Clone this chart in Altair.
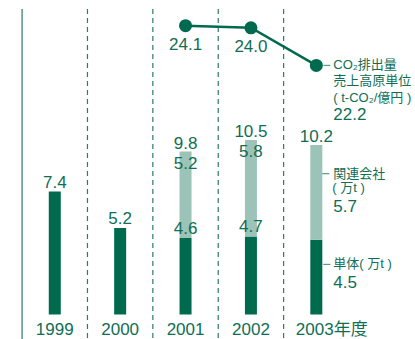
import altair as alt
import pandas as pd

# Fiscal years and CO2 emission figures
years = ["1999", "2000", "2001", "2002", "2003"]
own_emissions = [7.4, 5.2, 4.6, 4.7, 4.5]          # 単体 (万t)
affiliate_emissions = [None, None, 5.2, 5.8, 5.7]  # 関連会社 (万t)
total_labels = [None, None, "9.8", "10.5", "10.2"]
intensity_years = ["2001", "2002", "2003"]
intensity = [24.1, 24.0, 22.2]                      # t-CO2/億円

DARK = "#006a4e"
LIGHT = "#9cc3b8"
TEXT = "#0f6e54"
FONT = "Liberation Sans, Noto Sans CJK JP"

W, H = 415, 339

idx = {y: i for i, y in enumerate(years)}

rows = []
for y, own, aff, tot in zip(years, own_emissions, affiliate_emissions, total_labels):
    base = own
    rows.append({"year": y, "i": idx[y], "part": "own", "lo": 0, "hi": own,
                 "label": f"{own}"})
    if aff is not None:
        rows.append({"year": y, "i": idx[y], "part": "aff", "lo": own,
                     "hi": round(own + aff, 1), "label": f"{aff}", "total": tot})
bars = pd.DataFrame(rows)

line_df = pd.DataFrame({"year": intensity_years,
                        "i": [idx[y] for y in intensity_years],
                        "v": intensity,
                        "label": [f"{v:.1f}" for v in intensity]})

grid_df = pd.DataFrame({"b": [-0.5 + k for k in range(5)],
                        "kind": ["solid", "dash", "dash", "dash", "dash"]})
year_df = pd.DataFrame({"i": list(range(5)), "label": years})

x_scale = alt.Scale(domain=[-51 / 67, -51 / 67 + W / 67], nice=False, zero=False)
bar_scale = alt.Scale(domain=[-(H - 314.5) / 16.62, 314.5 / 16.62], nice=False, zero=False)
line_scale = alt.Scale(domain=[24.1 - (H - 25.7) / 20.9, 24.1 + 25.7 / 20.9], nice=False, zero=False)


def X(field="i"):
    return alt.X(f"{field}:Q", scale=x_scale, axis=None)


def YB(field):
    return alt.Y(f"{field}:Q", scale=bar_scale, axis=None)


def YL(field):
    return alt.Y(f"{field}:Q", scale=line_scale, axis=None)


def txt(**kw):
    base = dict(font=FONT, color=TEXT, fontSize=17)
    base.update(kw)
    return base


# Column separators
axis_line = alt.Chart(grid_df[grid_df.kind == "solid"]).mark_rule(
    color="#2e7a6a", strokeWidth=1.2).encode(x=X("b"), y=alt.value(9), y2=alt.value(H))
dash_lines = alt.Chart(grid_df[grid_df.kind == "dash"]).mark_rule(
    color="#2e7a6a", strokeWidth=1.2, strokeDash=[5, 4]).encode(
    x=X("b"), y=alt.value(9), y2=alt.value(H))

# Stacked bars
bar_marks = alt.Chart(bars).mark_bar(width=12).encode(
    x=X(), y=YB("lo"), y2="hi",
    color=alt.Color("part:N", scale=alt.Scale(domain=["own", "aff"], range=[DARK, LIGHT]),
                    legend=None))

inner = bars[bars.year != "2003"]
own_top = alt.Chart(inner[inner.part == "own"]).mark_text(
    **txt(dy=-4, baseline="alphabetic")).encode(x=X(), y=YB("hi"), text="label")
aff_lbl = alt.Chart(inner[inner.part == "aff"]).mark_text(
    **txt(dy=17, baseline="alphabetic")).encode(x=X(), y=YB("hi"), text="label")
tot_lbl = alt.Chart(bars[bars.part == "aff"]).mark_text(
    **txt(dy=-3, baseline="alphabetic")).encode(x=X(), y=YB("hi"), text="total:N")

# Right-hand legend labels for 2003
last_aff = bars[(bars.year == "2003") & (bars.part == "aff")]
last_own = bars[(bars.year == "2003") & (bars.part == "own")]

aff_tick = alt.Chart(last_aff).mark_tick(
    orient="horizontal", size=7, thickness=1.2, color=TEXT, xOffset=9.5, yOffset=28.7
).encode(x=X(), y=YB("hi"))
aff_t1 = alt.Chart(last_aff).mark_text(
    **txt(fontSize=13, align="left", baseline="middle", dx=17, dy=28.7)
).encode(x=X(), y=YB("hi"), text=alt.value("関連会社"))
aff_t2 = alt.Chart(last_aff).mark_text(
    **txt(fontSize=13, align="left", baseline="middle", dx=16, dy=43.5)
).encode(x=X(), y=YB("hi"), text=alt.value("( 万t )"))
aff_t3 = alt.Chart(last_aff).mark_text(
    **txt(align="left", baseline="alphabetic", dx=17, dy=67)
).encode(x=X(), y=YB("hi"), text="label")

own_tick = alt.Chart(last_own).mark_tick(
    orient="horizontal", size=7, thickness=1.2, color=TEXT, xOffset=10.5, yOffset=24.7
).encode(x=X(), y=YB("hi"))
own_t1 = alt.Chart(last_own).mark_text(
    **txt(fontSize=13, align="left", baseline="middle", dx=17, dy=24.7)
).encode(x=X(), y=YB("hi"), text=alt.value("単体( 万t )"))
own_t2 = alt.Chart(last_own).mark_text(
    **txt(align="left", baseline="alphabetic", dx=17, dy=48.5)
).encode(x=X(), y=YB("hi"), text="label")

# Intensity line
line = alt.Chart(line_df).mark_line(color=DARK, strokeWidth=2.5).encode(x=X(), y=YL("v"))
points = alt.Chart(line_df).mark_point(filled=True, size=170, color=DARK, opacity=1).encode(
    x=X(), y=YL("v"))
line_lbl = alt.Chart(line_df[line_df.year != "2003"]).mark_text(
    **txt(dy=24, baseline="alphabetic")).encode(x=X(), y=YL("v"), text="label")

last_pt = line_df[line_df.year == "2003"]
co2_tick = alt.Chart(last_pt).mark_tick(
    orient="horizontal", size=7, thickness=1.2, color=TEXT, xOffset=10.5
).encode(x=X(), y=YL("v"))
co2_rows = []
for k, (s, dy) in enumerate([("CO₂排出量", 0), ("売上高原単位", 16), ("( t-CO₂/億円 )", 32.5)]):
    co2_rows.append(alt.Chart(last_pt).mark_text(
        **txt(fontSize=13, align="left", baseline="middle", dx=17, dy=dy)
    ).encode(x=X(), y=YL("v"), text=alt.value(s)))
co2_val = alt.Chart(last_pt).mark_text(
    **txt(align="left", baseline="alphabetic", dx=17, dy=55)
).encode(x=X(), y=YL("v"), text="label")

# Year labels along the bottom
year_lbl = alt.Chart(year_df[year_df.i < 4]).mark_text(
    **txt(baseline="alphabetic")).encode(x=X(), y=alt.value(334.5), text="label")
year_last = alt.Chart(year_df[year_df.i == 4]).mark_text(
    **txt(baseline="alphabetic", align="left", dx=-20.5)).encode(
    x=X(), y=alt.value(334.5), text=alt.value("2003年度"))

chart = alt.layer(
    axis_line, dash_lines, bar_marks, own_top, aff_lbl, tot_lbl,
    aff_tick, aff_t1, aff_t2, aff_t3, own_tick, own_t1, own_t2,
    line, points, line_lbl, co2_tick, *co2_rows, co2_val,
    year_lbl, year_last,
).resolve_scale(y="independent").properties(
    width=W, height=H, padding=0, autosize=alt.AutoSizeParams(type="none"),
    background="white",
).configure_view(stroke=None)

chart.save("out.html", embed_options={"renderer": "svg", "actions": False})
